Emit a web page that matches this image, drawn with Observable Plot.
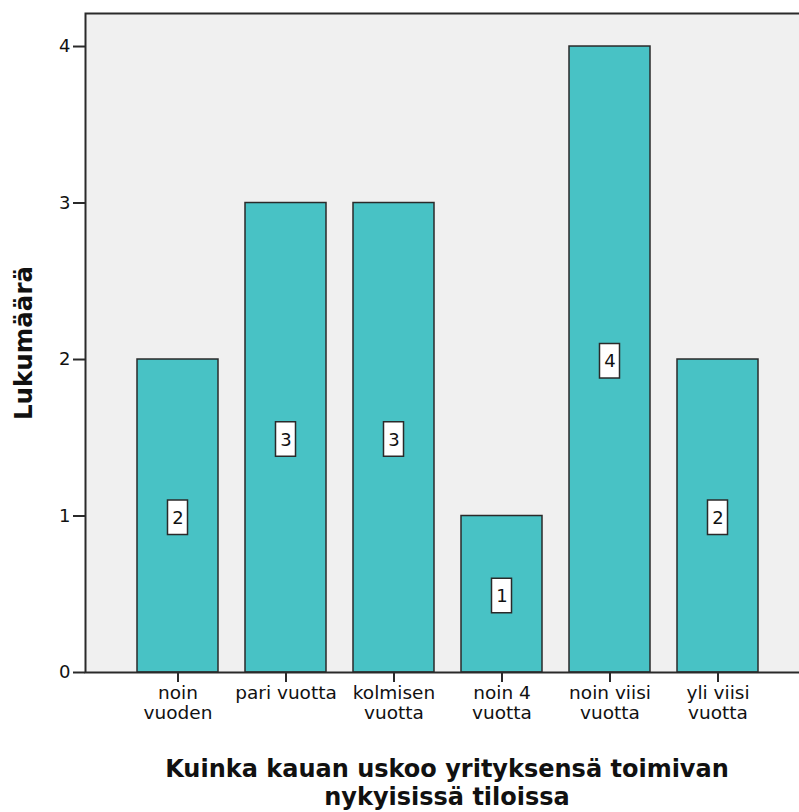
<!DOCTYPE html>
<html>
<head>
<meta charset="utf-8">
<script src="https://cdn.jsdelivr.net/npm/d3@7"></script>
<script src="https://cdn.jsdelivr.net/npm/@observablehq/plot@0.6"></script>
<style>
  html, body { margin: 0; padding: 0; background: #fff; overflow: hidden; width: 799px; height: 812px; }
  #chart { width: 810px; }
  #title { width: 724px; margin-left: 85px; text-align: center; font-family: "DejaVu Sans", sans-serif; font-weight: bold; font-size: 24px; line-height: 28px; color: #111; padding-top: 5px; }
</style>
</head>
<body>
<div id="chart"></div>
<div id="title">Kuinka kauan uskoo yrityksensä toimivan<br>nykyisissä tiloissa</div>
<script>
const categories = ["noin\nvuoden", "pari vuotta", "kolmisen\nvuotta", "noin 4\nvuotta", "noin viisi\nvuotta", "yli viisi\nvuotta"];
const counts = [2, 3, 3, 1, 4, 2];
const yTicks = [0, 1, 2, 3, 4];
const yLabel = "Lukumäärä";

const data = categories.map((c, i) => ({cat: c, n: counts[i]}));

const plot = Plot.plot({
  width: 810,
  height: 750,
  marginTop: 13,
  marginLeft: 85,
  marginRight: 1,
  marginBottom: 78,
  style: {fontFamily: "DejaVu Sans, sans-serif", fontSize: "18px", color: "#222", background: "#fff"},
  x: {domain: categories, paddingInner: 0.25, paddingOuter: 0.46, label: null},
  y: {domain: [0, 4.211], label: null},
  marks: [
    Plot.frame({fill: "#f0f0f0", stroke: null}),
    Plot.barY(data, {x: "cat", y: "n", fill: "#48c2c5", stroke: "#2a2a2a", strokeWidth: 1.5}),
    Plot.barY(data, {x: "cat", y1: d => d.n / 2, y2: d => d.n / 2, insetTop: -15.5, insetBottom: -19, insetLeft: 30.5, insetRight: 30.5, fill: "#fff", stroke: "#2a2a2a", strokeWidth: 1.5}),
    Plot.text(data, {x: "cat", y: d => d.n / 2, text: d => String(d.n), dy: 2, fontSize: 18, fill: "#111"}),
    Plot.axisY({ticks: yTicks, tickFormat: d3.format("d"), tickSize: 12, tickPadding: 3, fontSize: 18, stroke: "#2a2a2a", strokeWidth: 2, fill: "#111", label: null}),
    Plot.axisX({tickSize: 10, tickPadding: 3, fontSize: 18.5, lineHeight: 1.05, stroke: "#2a2a2a", strokeWidth: 2, fill: "#111", label: null}),
    Plot.text([yLabel], {frameAnchor: "left", dx: -61, rotate: -90, textAnchor: "middle", lineAnchor: "middle", fontSize: 24.5, fontWeight: "bold", fill: "#111"}),
    Plot.frame({stroke: "#2a2a2a", strokeWidth: 2})
  ]
});
document.getElementById("chart").appendChild(plot);
</script>
</body>
</html>
